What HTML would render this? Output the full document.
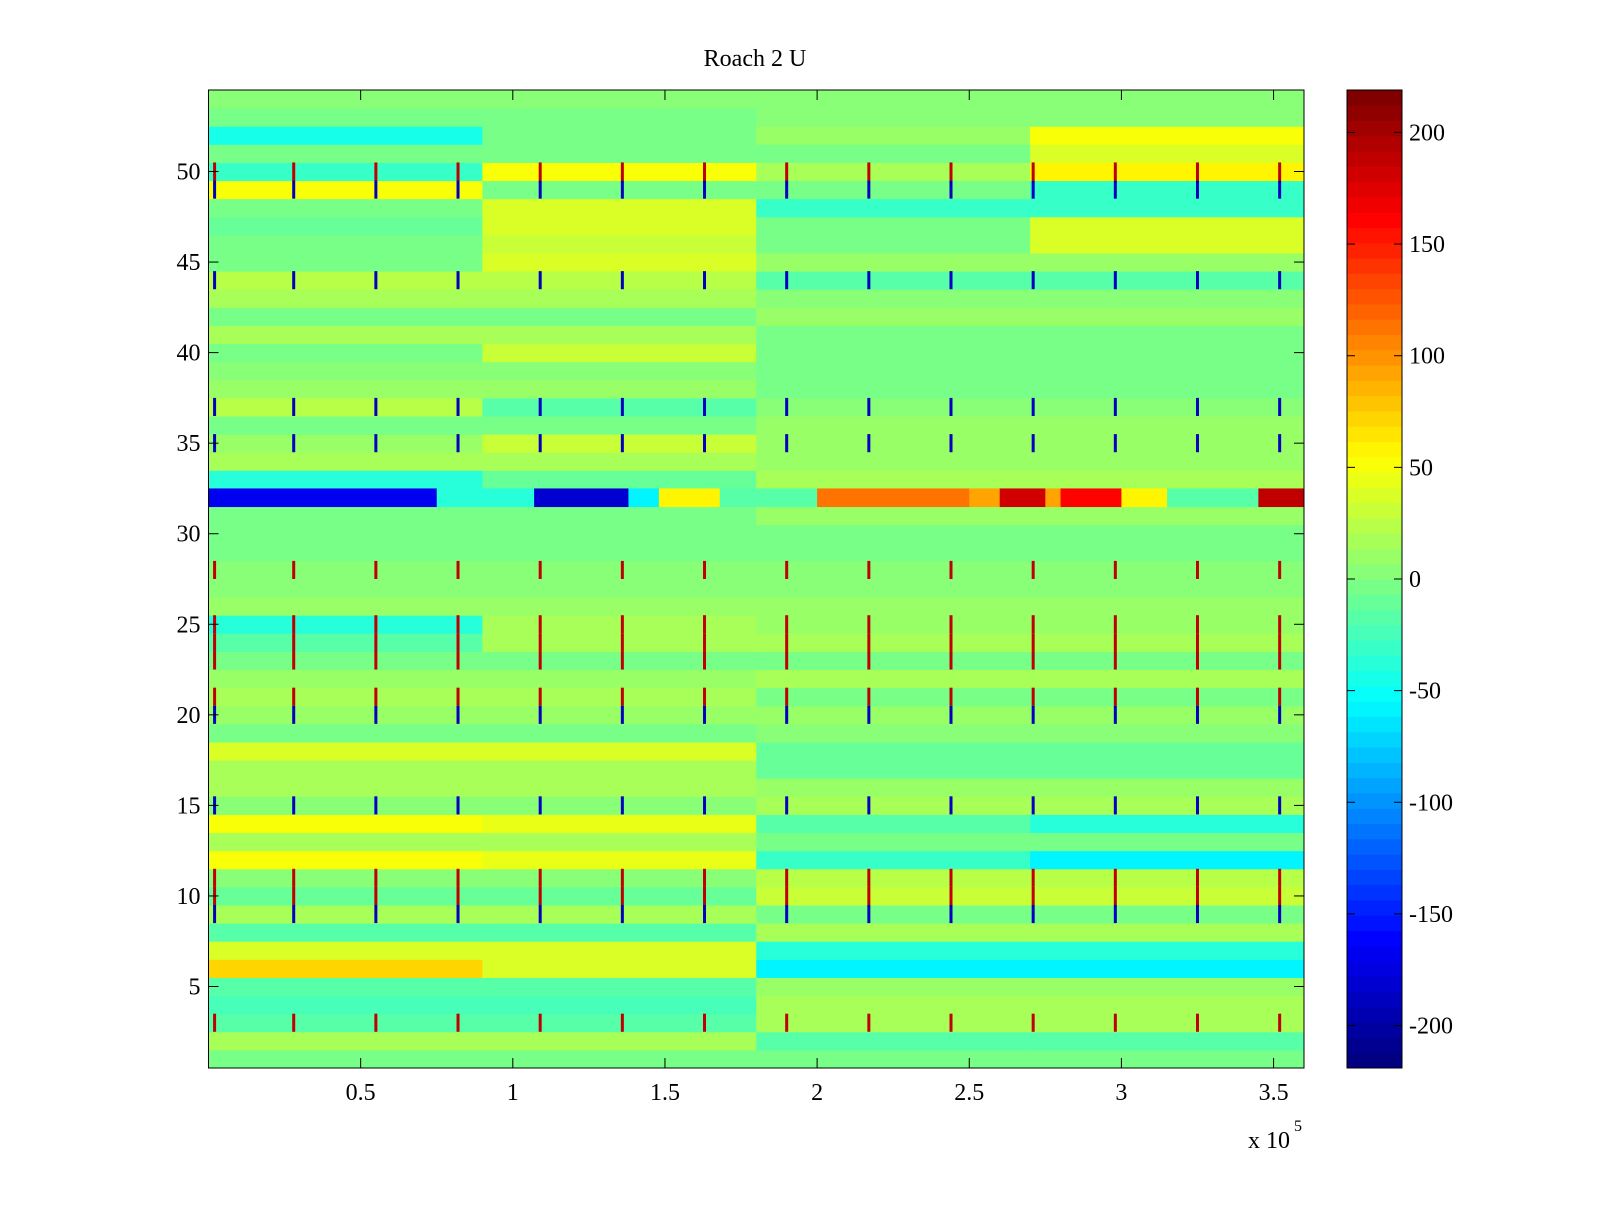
<!DOCTYPE html>
<html><head><meta charset="utf-8"><style>
html,body{margin:0;padding:0;background:#fff}
svg text{font-family:"Liberation Serif",serif;font-size:24px;fill:#000}
</style></head><body>
<svg id="chart" width="1600" height="1200" xmlns="http://www.w3.org/2000/svg">
<rect width="1600" height="1200" fill="#fff"/>
<text x="755" y="66" text-anchor="middle">Roach 2 U</text>
<g id="cells"></g>
<g id="cbar"></g>
<g id="axes"></g>
<text x="1248" y="1148">x 10</text>
<text x="1294" y="1131" style="font-size:16px">5</text>
</svg>
<script>
// rows 1..54, four quarter segments each (value units)
const rowQuarters = [
[-5,-5,-5,-5],[20,20,-20,-20],[-20,-20,20,20],[-25,-25,15,15],[-20,-20,10,10],
[70,40,-60,-60],[40,40,-40,-40],[-15,-15,15,15],[20,20,0,0],[-10,-10,30,30],
[5,5,25,25],[50,45,-30,-55],[20,20,0,0],[50,45,-20,-40],[5,5,15,15],
[20,20,10,10],[20,20,-10,-10],[40,35,-10,-10],[0,0,5,5],[10,10,10,10],
[15,15,0,0],[10,10,15,15],[0,0,0,0],[-20,20,20,20],[-40,20,10,10],
[10,10,10,10],[5,5,5,5],[5,5,5,5],[-5,-5,-5,-5],[0,0,0,0],
[0,0,10,10],[0,0,0,0],[-40,-10,15,15],[15,15,10,10],[10,30,10,10],
[0,0,10,10],[25,-20,5,5],[10,10,0,0],[5,5,0,0],[0,30,0,0],
[15,15,0,0],[0,0,10,10],[20,20,5,5],[25,25,-15,-15],[0,40,10,10],
[0,30,0,35],[-10,40,0,40],[0,40,-30,-30],[50,0,0,-30],[-30,50,20,60],
[0,0,0,40],[-45,0,10,50],[0,0,5,5],[5,5,5,5]
];
// row 32 detailed segments: start (x1e5), end, value
const row32Start = [0,0.75,1.07,1.38,1.48,1.68,2.0,2.5,2.6,2.75,2.8,3.0,3.15,3.45];
const row32End   = [0.75,1.07,1.38,1.48,1.68,2.0,2.5,2.6,2.75,2.8,3.0,3.15,3.45,3.6];
const row32Val   = [-170,-40,-180,-60,60,-20,110,90,180,90,160,60,-20,190];
// periodic spikes
const spikeX = [0.02,0.28,0.55,0.82,1.09,1.36,1.63,1.9,2.17,2.44,2.71,2.98,3.25,3.52];
const spikeRowsRed = [3,10,11,21,23,24,25,28,50];
const spikeRowsBlue = [9,15,20,35,37,44,49];
const xTicks = [0.5,1,1.5,2,2.5,3,3.5];
const yTicks = [5,10,15,20,25,30,35,40,45,50];
const cbTicks = [200,150,100,50,0,-50,-100,-150,-200];

const X0=208.5,X1=1304,Y0=90,Y1=1068,XMAX=3.6,VMAX=219;
const xs=v=>X0+v/XMAX*(X1-X0);
const ys=r=>Y1-(r-0.5)/54*(Y1-Y0);
function jet(v){let t=(v+VMAX)/(2*VMAX);t=Math.max(0,Math.min(1,t));
 t=Math.floor(t*63.999)/63;
 const c=x=>Math.round(255*Math.max(0,Math.min(1,1.5-Math.abs(4*t-x))));
 return `rgb(${c(3)},${c(2)},${c(1)})`;}
const NS='http://www.w3.org/2000/svg';
function mk(tag,attrs,parent){const e=document.createElementNS(NS,tag);for(const k in attrs)e.setAttribute(k,attrs[k]);parent.appendChild(e);return e;}
const cells=document.getElementById('cells');
rowQuarters.forEach((q,i)=>{const r=i+1;
 q.forEach((v,j)=>{
  const el=mk('rect',{x:xs(j*0.9),y:ys(r+0.5),width:xs((j+1)*0.9)-xs(j*0.9)+0.5,height:ys(r-0.5)-ys(r+0.5)+0.5,fill:jet(v)},cells);
  
  
 });});
row32Start.forEach((s,i)=>{
 const el=mk('rect',{x:xs(s),y:ys(32.5),width:xs(row32End[i])-xs(s)+0.5,height:ys(31.5)-ys(32.5)+0.5,fill:jet(row32Val[i])},cells);
 
 
});
spikeX.forEach(sx=>{
 spikeRowsRed.forEach(r=>{const el=mk('rect',{x:xs(sx)-1.5,y:ys(r+0.5),width:3,height:ys(r-0.5)-ys(r+0.5),fill:jet(190)},cells);
  
  });
 spikeRowsBlue.forEach(r=>{const el=mk('rect',{x:xs(sx)-1.5,y:ys(r+0.5),width:3,height:ys(r-0.5)-ys(r+0.5),fill:jet(-190)},cells);
  
  });
});
const ax=document.getElementById('axes');
const frame=mk('rect',{x:X0,y:Y0,width:X1-X0,height:Y1-Y0,fill:'none',stroke:'#000','stroke-width':1},ax);


xTicks.forEach(t=>{const x=xs(t);
 mk('line',{x1:x,x2:x,y1:Y1,y2:Y1-10,stroke:'#000'},ax);mk('line',{x1:x,x2:x,y1:Y0,y2:Y0+10,stroke:'#000'},ax);
 const tx=mk('text',{x:x,y:Y1+32,'text-anchor':'middle'},ax);tx.textContent=t;
 
 });
yTicks.forEach(t=>{const y=ys(t);
 mk('line',{x1:X0,x2:X0+10,y1:y,y2:y,stroke:'#000'},ax);mk('line',{x1:X1,x2:X1-10,y1:y,y2:y,stroke:'#000'},ax);
 const tx=mk('text',{x:X0-8,y:y+8,'text-anchor':'end'},ax);tx.textContent=t;
 
 });
const cb=document.getElementById('cbar');
const CX0=1347,CX1=1402;
for(let i=0;i<64;i++){const v0=-VMAX+i*2*VMAX/64,v1=v0+2*VMAX/64;
 const y0=Y1-(v1+VMAX)/(2*VMAX)*(Y1-Y0),y1=Y1-(v0+VMAX)/(2*VMAX)*(Y1-Y0);
 const el=mk('rect',{x:CX0,y:y0,width:CX1-CX0,height:y1-y0+0.5,fill:jet((v0+v1)/2)},cb);
 
 }
mk('rect',{x:CX0,y:Y0,width:CX1-CX0,height:Y1-Y0,fill:'none',stroke:'#000'},cb);
cbTicks.forEach(t=>{const y=Y1-(t+VMAX)/(2*VMAX)*(Y1-Y0);
 mk('line',{x1:CX0,x2:CX0+8,y1:y,y2:y,stroke:'#000'},cb);mk('line',{x1:CX1,x2:CX1-8,y1:y,y2:y,stroke:'#000'},cb);
 const tx=mk('text',{x:CX1+7,y:y+8},cb);tx.textContent=t;
 
 });
</script>
</body></html>
